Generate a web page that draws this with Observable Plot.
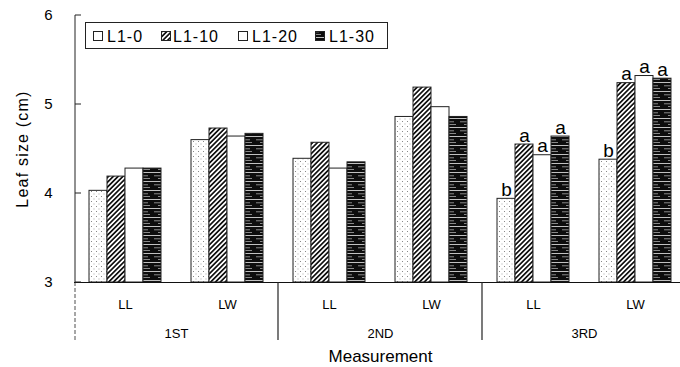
<!DOCTYPE html>
<html><head><meta charset="utf-8">
<script src="https://cdn.jsdelivr.net/npm/d3@7"></script>
<script src="https://cdn.jsdelivr.net/npm/@observablehq/plot@0.6"></script>
<style>
body{margin:0;background:#fff}
#chart{position:relative;width:680px;height:367px}
</style>
</head><body><div id="chart"></div>
<script>
// ---- data ----
const groups = ["1ST", "2ND", "3RD"];
const measures = ["LL", "LW"];
const series = ["L1-0", "L1-10", "L1-20", "L1-30"];
// values per series across 1ST-LL, 1ST-LW, 2ND-LL, 2ND-LW, 3RD-LL, 3RD-LW
const l1_0  = [4.03, 4.60, 4.39, 4.86, 3.94, 4.38];
const l1_10 = [4.19, 4.73, 4.57, 5.19, 4.55, 5.24];
const l1_20 = [4.28, 4.64, 4.28, 4.97, 4.43, 5.32];
const l1_30 = [4.28, 4.67, 4.35, 4.86, 4.64, 5.29];
const letters3rdLL = ["b", "a", "a", "a"];
const letters3rdLW = ["b", "a", "a", "a"];
const yTicks = [3, 4, 5, 6];
const yLabel = "Leaf size (cm)";
const xLabel = "Measurement";

// ---- tables ----
const patternIds = ["p-dots", "p-hatch", "p-white", "p-stripes"];
const valueSets = [l1_0, l1_10, l1_20, l1_30];
const facetKeys = groups.flatMap(g => measures.map(m => g + "|" + m));
const rows = [];
facetKeys.forEach((k, i) => series.forEach((s, j) =>
  rows.push({key: k, series: s, value: valueSets[j][i], fill: `url(#${patternIds[j]})`})));
const letterRows = [];
[["3RD|LL", letters3rdLL], ["3RD|LW", letters3rdLW]].forEach(([k, arr]) =>
  arr.forEach((t, j) => letterRows.push({key: k, series: series[j], value: rows.find(r => r.key === k && r.series === series[j]).value, letter: t})));

const FONT = "'Liberation Sans', Arial, Helvetica, sans-serif";

const plot = Plot.plot({
  width: 680, height: 367,
  marginTop: 15, marginBottom: 85, marginLeft: 74, marginRight: 0,
  style: {fontFamily: FONT, color: "#000", background: "#fff", overflow: "visible"},
  fx: {domain: facetKeys, range: [74, 686], padding: 0, axis: null},
  x: {domain: series, paddingInner: 0, paddingOuter: 0.72, axis: null},
  y: {domain: [3, 6], axis: null},
  color: {type: "identity"},
  marks: [
    Plot.barY(rows, {fx: "key", x: "series", y1: 3, y2: "value", fill: "fill", stroke: "#222", strokeWidth: 1, inset: 0}),
    Plot.ruleY([3], {stroke: "#111", strokeWidth: 1.2}),
    Plot.axisY({ticks: yTicks, tickSize: 0, tickPadding: 22, fontSize: 15, tickFormat: d => String(d),
      label: yLabel, labelAnchor: "center", labelOffset: 58, labelArrow: "none"}),
    Plot.axisFx({anchor: "bottom", tickSize: 0, tickPadding: 17, fontSize: 13,
      tickFormat: d => d.split("|")[1], label: null}),
    Plot.text(groups, {fx: d => d + "|LL", text: d => d, frameAnchor: "bottom-right",
      textAnchor: "middle", lineAnchor: "middle", dy: 51, fontSize: 13}),
    Plot.text([xLabel], {fx: () => "2ND|LL", text: d => d, frameAnchor: "bottom-right",
      textAnchor: "middle", lineAnchor: "middle", dy: 74, fontSize: 17}),
    Plot.text(letterRows, {fx: "key", x: "series", y: "value", text: "letter",
      lineAnchor: "bottom", dy: -3, fontSize: 19})
  ]
});

document.getElementById("chart").appendChild(plot);

const svg = d3.select(plot.tagName.toLowerCase() === "svg" ? plot : plot.querySelector("svg"));

// patterns
const defs = svg.insert("defs", ":first-child");
const pd = defs.append("pattern").attr("id", "p-dots").attr("patternUnits", "userSpaceOnUse").attr("width", 5).attr("height", 5);
pd.append("rect").attr("width", 5).attr("height", 5).attr("fill", "#fff");
pd.append("rect").attr("x", 1).attr("y", 1).attr("width", 1).attr("height", 1).attr("fill", "#888");
pd.append("rect").attr("x", 3.5).attr("y", 3.5).attr("width", 1).attr("height", 1).attr("fill", "#aaa");
const ph = defs.append("pattern").attr("id", "p-hatch").attr("patternUnits", "userSpaceOnUse").attr("width", 3.4).attr("height", 3.4).attr("patternTransform", "rotate(45)");
ph.append("rect").attr("width", 3.4).attr("height", 3.4).attr("fill", "#fff");
ph.append("rect").attr("width", 1.7).attr("height", 3.4).attr("fill", "#111");
const pw = defs.append("pattern").attr("id", "p-white").attr("patternUnits", "userSpaceOnUse").attr("width", 4).attr("height", 4);
pw.append("rect").attr("width", 4).attr("height", 4).attr("fill", "#fff");
const ps = defs.append("pattern").attr("id", "p-stripes").attr("patternUnits", "userSpaceOnUse").attr("width", 19).attr("height", 9);
ps.append("rect").attr("width", 19).attr("height", 9).attr("fill", "#0d0d0d");
ps.append("rect").attr("y", 1).attr("width", 19).attr("height", 0.8).attr("fill", "#eee");
ps.append("rect").attr("x", 2).attr("y", 4.5).attr("width", 13).attr("height", 0.7).attr("fill", "#bbb");
ps.append("rect").attr("x", 6).attr("y", 7).attr("width", 11).attr("height", 0.6).attr("fill", "#ddd");

// axis line, inward ticks & group dividers from the library scales
const fx = plot.scale("fx"), y = plot.scale("y");
const x0 = fx.apply(facetKeys[0]) + 1;
const yb = y.apply(3), yt = y.apply(6);
const deco = svg.append("g").attr("stroke", "#222").attr("fill", "none");
deco.append("line").attr("x1", x0).attr("x2", x0).attr("y1", yt).attr("y2", yb);
yTicks.forEach(t => deco.append("line").attr("x1", x0).attr("x2", x0 + 6)
  .attr("y1", y.apply(t)).attr("y2", y.apply(t)));
groups.forEach((g, i) => {
  const gx = i === 0 ? x0 : fx.apply(g + "|LL");
  deco.append("line").attr("x1", gx).attr("x2", gx)
    .attr("y1", yb).attr("y2", yb + 58).attr("stroke-dasharray", i === 0 ? "4,2" : null)
    .attr("stroke-width", i === 0 ? 0.8 : 1.2);
});

// legend (inside plot area)
const lg = svg.append("g").attr("font-family", FONT).attr("font-size", 16).attr("text-anchor", "start");
lg.append("rect").attr("x", 85.5).attr("y", 22.5).attr("width", 302).attr("height", 26)
  .attr("fill", "#fff").attr("stroke", "#222");
const iconX = [93, 161, 238, 315], textX = [107, 173, 252, 329];
series.forEach((s, j) => {
  lg.append("rect").attr("x", iconX[j] + 0.5).attr("y", 31.5).attr("width", 9).attr("height", 9)
    .attr("fill", j === 0 ? "#fff" : `url(#${patternIds[j]})`).attr("stroke", "#222");
  lg.append("text").attr("x", textX[j]).attr("y", 42).attr("text-anchor", "start")
    .attr("letter-spacing", 1).text(s);
});
svg.selectAll("g[aria-label='y-axis label'] text").attr("letter-spacing", 1.2).attr("font-size", 16);
</script>
</body></html>
